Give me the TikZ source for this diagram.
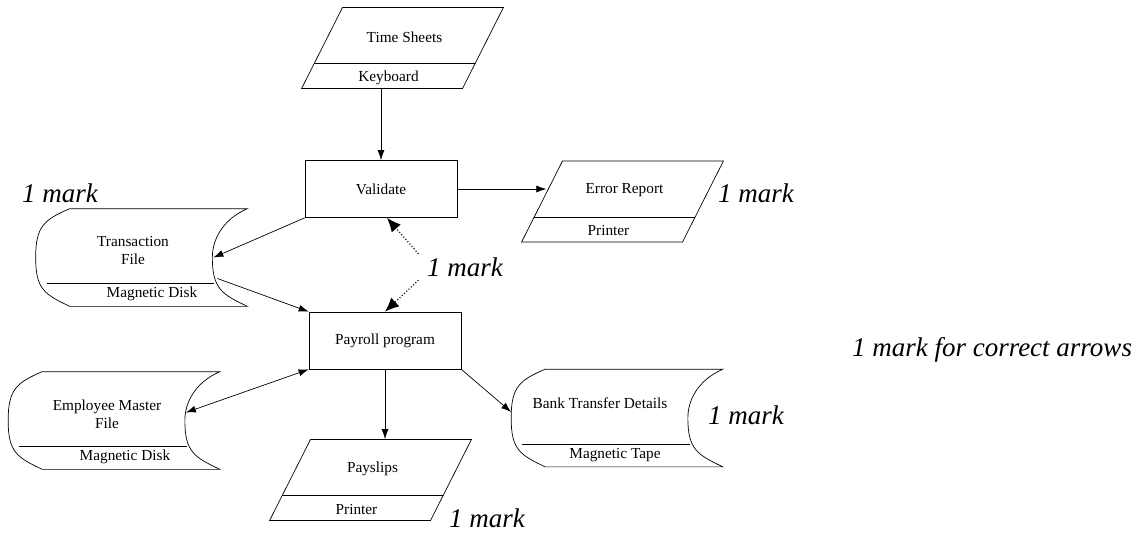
\documentclass[tikz,border=0pt]{standalone}
\usepackage{fontspec}
\setmainfont{Liberation Serif}
\usetikzlibrary{positioning, shapes.geometric, arrows.meta, calc}
\tikzset{font=\fontsize{15.3}{18}\selectfont}
\tikzstyle{block} = [draw, rectangle, minimum width=152pt, minimum height=57pt]
\tikzstyle{io}    = [draw, trapezium, trapezium left angle=63.2, trapezium right angle=116.8,
                     inner sep=0pt, text width=120pt, text height=81pt, text depth=0pt,
                     path picture={\draw ([yshift=25pt]path picture bounding box.south west)
                                      -- ([yshift=25pt]path picture bounding box.south east);}]
\tikzstyle{store} = [rectangle, inner sep=0pt, minimum width=211pt, minimum height=97pt]
\tikzstyle{txt}   = [inner sep=1pt, align=center]
\tikzstyle{marktext} = [font=\fontsize{27}{30}\selectfont\itshape]
\tikzstyle{dots}  = [dotted, line width=1.1pt, -{Latex[length=14pt,width=12pt]}]

\newcommand{\storeshape}[1]{%
  \draw ([xshift=34pt]#1.north west) -- (#1.north east)
    .. controls ([xshift=-25pt,yshift=-11pt]#1.north east) and ([xshift=-35pt,yshift=-31pt]#1.north east) .. ([xshift=-35pt]#1.east)
    .. controls ([xshift=-35pt,yshift=17pt]#1.south east) and ([xshift=-25pt,yshift=12pt]#1.south east) .. (#1.south east)
    -- ([xshift=34pt]#1.south west)
    .. controls ([xshift=9pt,yshift=12pt]#1.south west) and ([yshift=17pt]#1.south west) .. (#1.west)
    .. controls ([yshift=-17pt]#1.north west) and ([xshift=9pt,yshift=-11pt]#1.north west) .. ([xshift=34pt]#1.north west);
  \draw ([xshift=11pt,yshift=23pt]#1.south west) -- ([xshift=-33pt,yshift=23pt]#1.south east);
}

\begin{document}
\begin{tikzpicture}[x=1pt, y=-1pt, >={Latex[length=10pt,width=7pt]}, line width=0.7pt]
	\useasboundingbox (0,0) rectangle (1147,533);

	\node [io] (ts) at (402.5,48) {};
	\node [txt] (tstitle) at ([xshift=2pt,yshift=11pt]ts.center) {Time Sheets};
	\node [txt] (tsdev) at ([xshift=-14pt,yshift=-29.5pt]ts.center) {Keyboard};

	\node [block] (val) at (381,189) {Validate};
	\node [block] (pay) at (385,340.5) {Payroll program};

	\node [io] (er) at (622.5,201.5) {};
	\node [txt] (ertitle) at ([xshift=2pt,yshift=11pt]er.center) {Error Report};
	\node [txt] (erdev) at ([xshift=-14pt,yshift=-29.5pt]er.center) {Printer};

	\node [io] (ps) at (370.5,480) {};
	\node [txt] (pstitle) at ([xshift=2pt,yshift=11pt]ps.center) {Payslips};
	\node [txt] (psdev) at ([xshift=-14pt,yshift=-29.5pt]ps.center) {Printer};

	\node [store] (tf) at (141.5,257.5) {};
	\storeshape{tf}
	\node [txt] (tftitle) at ([xshift=-8.5pt,yshift=6.5pt]tf.center) {Transaction\\File};
	\node [txt] (tfdev) at ([xshift=10.5pt,yshift=-36.5pt]tf.center) {Magnetic Disk};

	\node [store] (emp) at (114,420.5) {};
	\storeshape{emp}
	\node [txt] (emptitle) at ([xshift=-7pt,yshift=6.5pt]emp.center) {Employee Master\\File};
	\node [txt] (empdev) at ([xshift=11pt,yshift=-36.5pt]emp.center) {Magnetic Disk};

	\node [store] (bk) at (617,418) {};
	\storeshape{bk}
	\node [txt] (bktitle) at ([xshift=-17pt,yshift=15pt]bk.center) {Bank Transfer Details};
	\node [txt] (bkdev) at ([xshift=-2pt,yshift=-37pt]bk.center) {Magnetic Tape};

	\node [marktext] (mk1) at (60,193) {1 mark};
	\node [marktext] (mk2) at (465,267) {1 mark};
	\node [marktext] (mk3) at (756,193) {1 mark};
	\node [marktext] (mk4) at (746,415) {1 mark};
	\node [marktext] (mk5) at (487,518) {1 mark};
	\node [marktext] (note) at (992,350) {1 mark for correct arrows};

	\draw [->] (val.north |- ts.south) -- (val.north);
	\draw [->] (val.east) -- (val.east -| er.173);
	\draw [->] (val.south west) -- ([xshift=-34pt]tf.east);
	\draw [->] ([xshift=-30pt,yshift=-21pt]tf.east) -- (pay.north west);
	\draw [<->] ([xshift=-34pt,yshift=8pt]emp.east) -- (pay.south west);
	\draw [->] (pay.south) -- (pay.south |- ps.north);
	\draw [->] (pay.south east) -- ([yshift=6pt]bk.west);
	\draw [dots] ([xshift=-5pt]mk2.north west) -- ([xshift=6pt]val.south);
	\draw [dots] ([xshift=-5pt]mk2.south west) -- (pay.north);
\end{tikzpicture}
\end{document}
